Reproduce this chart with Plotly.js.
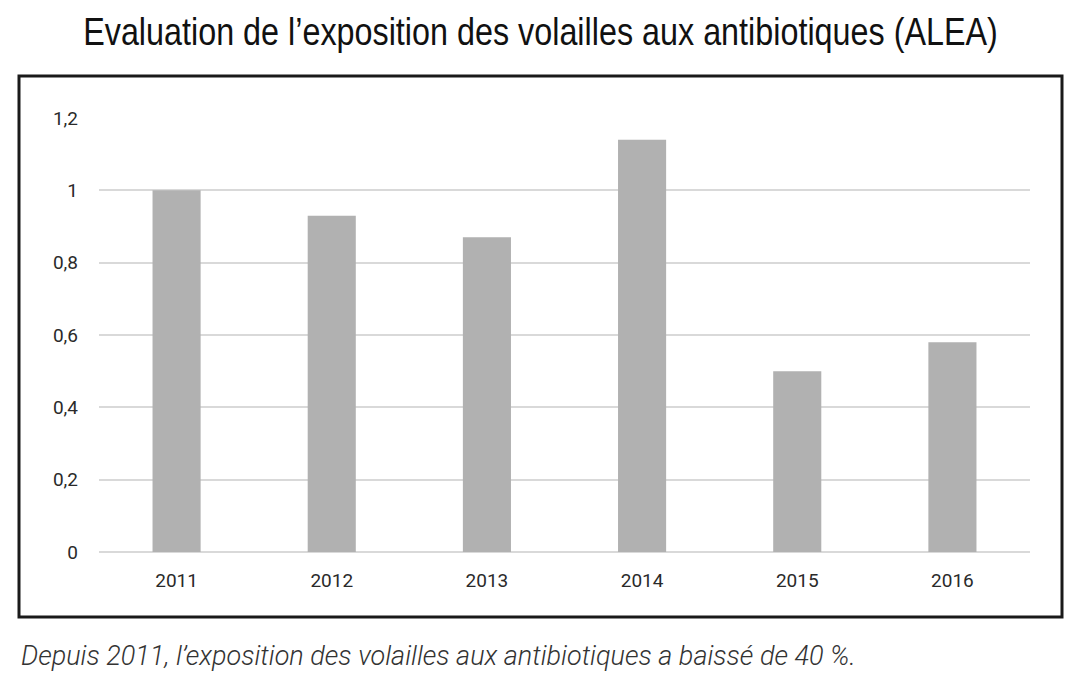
<!DOCTYPE html>
<html>
<head>
<meta charset="utf-8">
<script src="https://cdn.plot.ly/plotly-3.0.1.min.js"></script>
<style>html,body{margin:0;padding:0;background:#fff;}#chart{width:1078px;height:681px;}</style>
</head>
<body>
<div id="chart"></div>
<script>
var years = ['2011', '2012', '2013', '2014', '2015', '2016'];
var alea = [1.0, 0.93, 0.87, 1.14, 0.50, 0.58];
var yTickVals = [0, 0.2, 0.4, 0.6, 0.8, 1, 1.2];
var yTickText = ['0', '0,2', '0,4', '0,6', '0,8', '1', '1,2'];
var titleText = 'Evaluation de l\u2019exposition des volailles aux antibiotiques (ALEA)';
var captionText = 'Depuis 2011, l\u2019exposition des volailles aux antibiotiques a baiss\u00e9 de 40 %.';

var trace = {
  type: 'bar',
  x: years,
  y: alea,
  marker: {color: '#b1b1b1'},
  hoverinfo: 'x+y'
};

var layout = {
  width: 1078,
  height: 681,
  margin: {l: 99, r: 48, t: 118, b: 129},
  paper_bgcolor: '#ffffff',
  plot_bgcolor: '#ffffff',
  bargap: 0.69,
  showlegend: false,
  title: {
    text: titleText,
    font: {family: '"Liberation Sans", Arial, sans-serif', size: 39, color: '#111'},
    x: 0.5, xanchor: 'center',
    y: 1 - 31/681, yanchor: 'middle', yref: 'container'
  },
  xaxis: {
    type: 'category',
    showgrid: false,
    zeroline: false,
    showline: false,
    ticks: '',
    tickfont: {family: 'Roboto, "DejaVu Sans", sans-serif', size: 19, color: '#2a2a2a'},
    ticklabelstandoff: 15
  },
  yaxis: {
    range: [0, 1.2],
    tickvals: yTickVals,
    ticktext: yTickText,
    showgrid: true,
    gridcolor: '#d9d9d9',
    gridwidth: 2,
    zeroline: true,
    zerolinecolor: '#d9d9d9',
    zerolinewidth: 2,
    showline: false,
    ticks: '',
    ticklabelstandoff: 20,
    tickfont: {family: 'Roboto, "DejaVu Sans", sans-serif', size: 19, color: '#2a2a2a'}
  },
  shapes: [{
    type: 'rect', xref: 'paper', yref: 'paper',
    x0: (19 - 99) / 931, x1: (1062 - 99) / 931,
    y0: (552 - 617) / 434, y1: (552 - 76) / 434,
    line: {color: '#1a1a1a', width: 3},
    fillcolor: 'rgba(0,0,0,0)',
    layer: 'below'
  }],
  annotations: [{
    text: captionText,
    xref: 'paper', yref: 'paper',
    x: (19 - 99) / 931, xanchor: 'left',
    y: (552 - 656) / 434, yanchor: 'middle',
    showarrow: false,
    font: {family: 'Roboto, "DejaVu Sans", sans-serif', size: 27, weight: 300, color: '#333', style: 'italic'}
  }]
};

Plotly.newPlot('chart', [trace], layout, {displayModeBar: false, staticPlot: true}).then(function () {
  // condense the title horizontally to mimic the narrow typeface of the original
  var t = document.querySelector('.gtitle');
  if (t) {
    var bb = t.getBBox();
    var targetW = 915, targetCx = 540.5;
    var sx = targetW / bb.width;
    var cx = bb.x + bb.width / 2;
    t.setAttribute('transform', 'translate(' + targetCx + ',0) scale(' + sx + ',1) translate(' + (-cx) + ',0)');
  }
});
</script>
</body>
</html>
